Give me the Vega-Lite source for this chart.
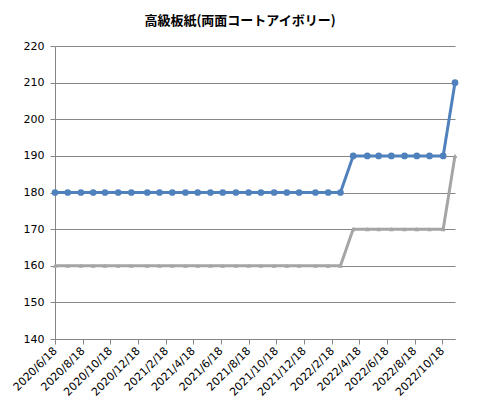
{
  "$schema": "https://vega.github.io/schema/vega-lite/v6.json",
  "width": 400,
  "height": 293,
  "autosize": "none",
  "padding": {"left": 55, "top": 46, "right": 25, "bottom": 75},
  "background": "#ffffff",
  "config": {
    "view": {"stroke": null},
    "axis": {"labelFont": "DejaVu Sans", "labelFontSize": 11, "labelColor": "#000000", "domainColor": "#868686", "tickColor": "#868686", "gridColor": "#868686", "tickSize": 5}
  },
  "title": {
    "text": "高級板紙(両面コートアイボリー)",
    "font": "Noto Sans CJK JP",
    "fontSize": 13,
    "fontWeight": "bold",
    "color": "#000000",
    "anchor": "middle",
    "dx": -15,
    "offset": 12
  },
  "data": {
    "values": [
      {"date": "2020-06-18", "series": "A", "price": 180}, {"date": "2020-06-18", "series": "B", "price": 160},
      {"date": "2020-07-16", "series": "A", "price": 180}, {"date": "2020-07-16", "series": "B", "price": 160},
      {"date": "2020-08-14", "series": "A", "price": 180}, {"date": "2020-08-14", "series": "B", "price": 160},
      {"date": "2020-09-10", "series": "A", "price": 180}, {"date": "2020-09-10", "series": "B", "price": 160},
      {"date": "2020-10-06", "series": "A", "price": 180}, {"date": "2020-10-06", "series": "B", "price": 160},
      {"date": "2020-11-04", "series": "A", "price": 180}, {"date": "2020-11-04", "series": "B", "price": 160},
      {"date": "2020-12-03", "series": "A", "price": 180}, {"date": "2020-12-03", "series": "B", "price": 160},
      {"date": "2021-01-07", "series": "A", "price": 180}, {"date": "2021-01-07", "series": "B", "price": 160},
      {"date": "2021-02-03", "series": "A", "price": 180}, {"date": "2021-02-03", "series": "B", "price": 160},
      {"date": "2021-03-03", "series": "A", "price": 180}, {"date": "2021-03-03", "series": "B", "price": 160},
      {"date": "2021-04-01", "series": "A", "price": 180}, {"date": "2021-04-01", "series": "B", "price": 160},
      {"date": "2021-04-28", "series": "A", "price": 180}, {"date": "2021-04-28", "series": "B", "price": 160},
      {"date": "2021-05-26", "series": "A", "price": 180}, {"date": "2021-05-26", "series": "B", "price": 160},
      {"date": "2021-06-22", "series": "A", "price": 180}, {"date": "2021-06-22", "series": "B", "price": 160},
      {"date": "2021-07-21", "series": "A", "price": 180}, {"date": "2021-07-21", "series": "B", "price": 160},
      {"date": "2021-08-18", "series": "A", "price": 180}, {"date": "2021-08-18", "series": "B", "price": 160},
      {"date": "2021-09-14", "series": "A", "price": 180}, {"date": "2021-09-14", "series": "B", "price": 160},
      {"date": "2021-10-13", "series": "A", "price": 180}, {"date": "2021-10-13", "series": "B", "price": 160},
      {"date": "2021-11-10", "series": "A", "price": 180}, {"date": "2021-11-10", "series": "B", "price": 160},
      {"date": "2021-12-07", "series": "A", "price": 180}, {"date": "2021-12-07", "series": "B", "price": 160},
      {"date": "2022-01-12", "series": "A", "price": 180}, {"date": "2022-01-12", "series": "B", "price": 160},
      {"date": "2022-02-09", "series": "A", "price": 180}, {"date": "2022-02-09", "series": "B", "price": 160},
      {"date": "2022-03-08", "series": "A", "price": 180}, {"date": "2022-03-08", "series": "B", "price": 160},
      {"date": "2022-04-05", "series": "A", "price": 190}, {"date": "2022-04-05", "series": "B", "price": 170},
      {"date": "2022-05-06", "series": "A", "price": 190}, {"date": "2022-05-06", "series": "B", "price": 170},
      {"date": "2022-05-31", "series": "A", "price": 190}, {"date": "2022-05-31", "series": "B", "price": 170},
      {"date": "2022-06-28", "series": "A", "price": 190}, {"date": "2022-06-28", "series": "B", "price": 170},
      {"date": "2022-07-27", "series": "A", "price": 190}, {"date": "2022-07-27", "series": "B", "price": 170},
      {"date": "2022-08-23", "series": "A", "price": 190}, {"date": "2022-08-23", "series": "B", "price": 170},
      {"date": "2022-09-20", "series": "A", "price": 190}, {"date": "2022-09-20", "series": "B", "price": 170},
      {"date": "2022-10-20", "series": "A", "price": 190}, {"date": "2022-10-20", "series": "B", "price": 170},
      {"date": "2022-11-15", "series": "A", "price": 210}, {"date": "2022-11-15", "series": "B", "price": 190}
    ]
  },
  "encoding": {
    "x": {
      "field": "date",
      "type": "temporal",
      "title": null,
      "scale": {
        "type": "utc",
        "domain": [
          {"year": 2020, "month": 6, "date": 18, "utc": true},
          {"year": 2022, "month": 11, "date": 15, "utc": true}
        ]
      },
      "axis": {
        "grid": false,
        "format": "%Y/%-m/%-d",
        "labelAngle": -45,
        "labelAlign": "right",
        "labelBaseline": "middle",
        "labelPadding": 5,
        "labelOverlap": false,
        "values": [
          {"year": 2020, "month": 6, "date": 18, "utc": true},
          {"year": 2020, "month": 8, "date": 18, "utc": true},
          {"year": 2020, "month": 10, "date": 18, "utc": true},
          {"year": 2020, "month": 12, "date": 18, "utc": true},
          {"year": 2021, "month": 2, "date": 18, "utc": true},
          {"year": 2021, "month": 4, "date": 18, "utc": true},
          {"year": 2021, "month": 6, "date": 18, "utc": true},
          {"year": 2021, "month": 8, "date": 18, "utc": true},
          {"year": 2021, "month": 10, "date": 18, "utc": true},
          {"year": 2021, "month": 12, "date": 18, "utc": true},
          {"year": 2022, "month": 2, "date": 18, "utc": true},
          {"year": 2022, "month": 4, "date": 18, "utc": true},
          {"year": 2022, "month": 6, "date": 18, "utc": true},
          {"year": 2022, "month": 8, "date": 18, "utc": true},
          {"year": 2022, "month": 10, "date": 18, "utc": true}
        ]
      }
    },
    "y": {
      "field": "price",
      "type": "quantitative",
      "title": null,
      "scale": {"domain": [140, 220], "nice": false, "zero": false},
      "axis": {"values": [140, 150, 160, 170, 180, 190, 200, 210, 220], "labelPadding": 6}
    },
    "color": {
      "field": "series",
      "type": "nominal",
      "scale": {"domain": ["A", "B"], "range": ["#4f81bd", "#a5a5a5"]},
      "legend": null
    }
  },
  "layer": [
    {"mark": {"type": "line", "strokeWidth": 3}},
    {
      "mark": {"type": "point", "filled": true, "opacity": 1},
      "encoding": {
        "shape": {"field": "series", "type": "nominal", "scale": {"domain": ["A", "B"], "range": ["circle", "triangle-up"]}, "legend": null},
        "size": {"field": "series", "type": "nominal", "scale": {"domain": ["A", "B"], "range": [45, 22]}, "legend": null}
      }
    }
  ]
}
